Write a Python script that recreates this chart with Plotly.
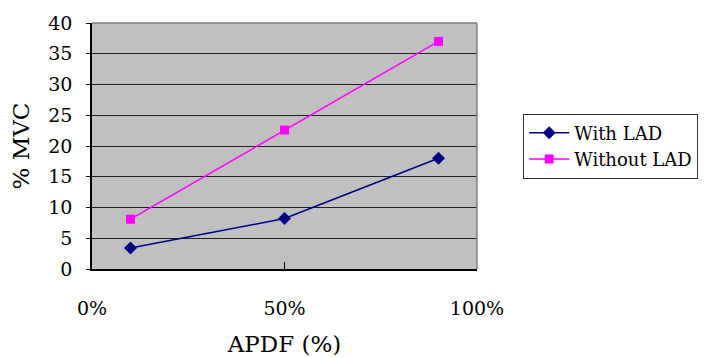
import plotly.graph_objects as go

# APDF levels (fraction) and %MVC for each condition
apdf = [0.10, 0.50, 0.90]
with_lad = [3.4, 8.2, 18.0]
without_lad = [8.1, 22.6, 37.0]

x_ticks = [0, 0.5, 1.0]
x_tick_labels = ["0%", "50%", "100%"]
y_ticks = [0, 5, 10, 15, 20, 25, 30, 35, 40]

serif = "DejaVu Serif"

fig = go.Figure()
fig.add_trace(go.Scatter(
    x=apdf, y=with_lad, name="With LAD", mode="lines+markers",
    line=dict(color="#000080", width=1.5),
    marker=dict(symbol="diamond", size=10, color="#000080"),
))
fig.add_trace(go.Scatter(
    x=apdf, y=without_lad, name="Without LAD", mode="lines+markers",
    line=dict(color="#FF00FF", width=1.5),
    marker=dict(symbol="square", size=9, color="#FF00FF"),
))

fig.update_layout(
    template="none",
    width=711, height=358,
    margin=dict(l=92, r=234, t=23, b=89),
    paper_bgcolor="white",
    plot_bgcolor="#C0C0C0",
    font=dict(family=serif, size=19, color="black"),
    showlegend=True,
    legend=dict(
        x=1.12, xanchor="left", y=0.5, yanchor="middle",
        bordercolor="#333333", borderwidth=1, bgcolor="white",
        font=dict(family=serif, size=18, color="black"),
        tracegroupgap=0, itemwidth=40,
    ),
    xaxis=dict(
        range=[0, 1], tickvals=x_ticks, ticktext=x_tick_labels,
        showgrid=False, zeroline=False, automargin=False,
        ticks="inside", ticklen=7, tickcolor="black",
        showline=True, linecolor="black", linewidth=1.5, mirror=False,
        ticklabelstandoff=21,
        title=dict(text="APDF (%)", standoff=18),
    ),
    yaxis=dict(
        range=[0, 40], tickvals=y_ticks, automargin=False,
        showgrid=True, gridcolor="#222222", gridwidth=1,
        zeroline=False,
        ticks="outside", ticklen=4, tickcolor="black",
        showline=True, linecolor="black", linewidth=1.5,
        ticklabelstandoff=10,
        title=dict(text="% MVC", standoff=12),
    ),
    shapes=[
        # grey frame on the top and right of the plot area
        dict(type="line", xref="paper", yref="paper", x0=0, x1=1, y0=1, y1=1,
             line=dict(color="#808080", width=1.5)),
        dict(type="line", xref="paper", yref="paper", x0=1, x1=1, y0=0, y1=1,
             line=dict(color="#808080", width=1.5)),
    ],
)

fig.write_html("out.html")
